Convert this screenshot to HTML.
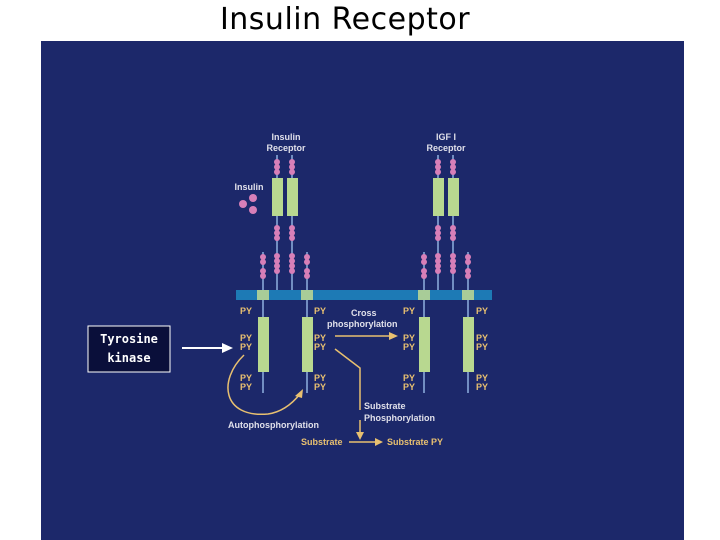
<!DOCTYPE html>
<html><head><style>
body{margin:0;width:720px;height:540px;background:#fff;overflow:hidden;position:relative;font-family:"Liberation Sans",sans-serif}
.t{position:absolute;top:2px;left:0;width:720px;text-align:center;font-size:30px;font-family:"DejaVu Sans",sans-serif;letter-spacing:0.5px;color:#000}
</style></head><body>
<div class="t" style="left:-15px">Insulin Receptor</div>
<svg width="720" height="540" style="position:absolute;left:0;top:0">
<rect x="41" y="41" width="643" height="499" fill="#1c286a"/>
<g font-family="Liberation Sans" font-weight="bold" font-size="9" fill="#e0e0ea" text-anchor="middle">
<text x="286" y="140">Insulin</text><text x="286" y="151">Receptor</text>
<text x="446" y="140">IGF I</text><text x="446" y="151">Receptor</text>
<text x="249" y="190">Insulin</text>
</g>
<g fill="#d77fb8"><circle cx="243" cy="204" r="4"/><circle cx="253" cy="198" r="4"/><circle cx="253" cy="210" r="4"/></g>
<g stroke="#8fb0e0" stroke-width="1.5">
<line x1="277" y1="155" x2="277" y2="290"/><line x1="292" y1="155" x2="292" y2="290"/>
<line x1="438" y1="155" x2="438" y2="290"/><line x1="453" y1="155" x2="453" y2="290"/>
<line x1="263" y1="252" x2="263" y2="393"/><line x1="307" y1="252" x2="307" y2="393"/>
<line x1="424" y1="252" x2="424" y2="393"/><line x1="468" y1="252" x2="468" y2="393"/>
</g>
<g fill="#b8d890"><rect x="272" y="178" width="11" height="38"/><rect x="287" y="178" width="11" height="38"/><rect x="433" y="178" width="11" height="38"/><rect x="448" y="178" width="11" height="38"/></g>
<g fill="#d77fb8">
<circle cx="277" cy="162" r="3"/><circle cx="277" cy="167" r="3"/><circle cx="277" cy="172" r="3"/>
<circle cx="292" cy="162" r="3"/><circle cx="292" cy="167" r="3"/><circle cx="292" cy="172" r="3"/>
<circle cx="438" cy="162" r="3"/><circle cx="438" cy="167" r="3"/><circle cx="438" cy="172" r="3"/>
<circle cx="453" cy="162" r="3"/><circle cx="453" cy="167" r="3"/><circle cx="453" cy="172" r="3"/>
<circle cx="277" cy="228" r="3"/><circle cx="277" cy="233" r="3"/><circle cx="277" cy="238" r="3"/><circle cx="277" cy="256" r="3"/><circle cx="277" cy="261" r="3"/><circle cx="277" cy="266" r="3"/><circle cx="277" cy="271" r="3"/>
<circle cx="292" cy="228" r="3"/><circle cx="292" cy="233" r="3"/><circle cx="292" cy="238" r="3"/><circle cx="292" cy="256" r="3"/><circle cx="292" cy="261" r="3"/><circle cx="292" cy="266" r="3"/><circle cx="292" cy="271" r="3"/>
<circle cx="438" cy="228" r="3"/><circle cx="438" cy="233" r="3"/><circle cx="438" cy="238" r="3"/><circle cx="438" cy="256" r="3"/><circle cx="438" cy="261" r="3"/><circle cx="438" cy="266" r="3"/><circle cx="438" cy="271" r="3"/>
<circle cx="453" cy="228" r="3"/><circle cx="453" cy="233" r="3"/><circle cx="453" cy="238" r="3"/><circle cx="453" cy="256" r="3"/><circle cx="453" cy="261" r="3"/><circle cx="453" cy="266" r="3"/><circle cx="453" cy="271" r="3"/>
<circle cx="263" cy="257" r="3"/><circle cx="263" cy="262" r="3"/><circle cx="263" cy="271" r="3"/><circle cx="263" cy="276" r="3"/>
<circle cx="307" cy="257" r="3"/><circle cx="307" cy="262" r="3"/><circle cx="307" cy="271" r="3"/><circle cx="307" cy="276" r="3"/>
<circle cx="424" cy="257" r="3"/><circle cx="424" cy="262" r="3"/><circle cx="424" cy="271" r="3"/><circle cx="424" cy="276" r="3"/>
<circle cx="468" cy="257" r="3"/><circle cx="468" cy="262" r="3"/><circle cx="468" cy="271" r="3"/><circle cx="468" cy="276" r="3"/>
</g>
<rect x="236" y="290" width="256" height="10" fill="#1d7ab5"/>
<g fill="#a8cc98"><rect x="257" y="290" width="12" height="10"/><rect x="301" y="290" width="12" height="10"/><rect x="418" y="290" width="12" height="10"/><rect x="462" y="290" width="12" height="10"/></g>
<g fill="#b8d890"><rect x="258" y="317" width="11" height="55"/><rect x="302" y="317" width="11" height="55"/><rect x="419" y="317" width="11" height="55"/><rect x="463" y="317" width="11" height="55"/></g>
<g font-family="Liberation Sans" font-weight="bold" font-size="9" fill="#e8c070">
<text x="240" y="314">PY</text><text x="240" y="341">PY</text><text x="240" y="350">PY</text><text x="240" y="381">PY</text><text x="240" y="390">PY</text>
<text x="314" y="314">PY</text><text x="314" y="341">PY</text><text x="314" y="350">PY</text><text x="314" y="381">PY</text><text x="314" y="390">PY</text>
<text x="403" y="314">PY</text><text x="403" y="341">PY</text><text x="403" y="350">PY</text><text x="403" y="381">PY</text><text x="403" y="390">PY</text>
<text x="476" y="314">PY</text><text x="476" y="341">PY</text><text x="476" y="350">PY</text><text x="476" y="381">PY</text><text x="476" y="390">PY</text>
</g>
<g font-family="Liberation Sans" font-weight="bold" font-size="9" fill="#e0e0ea">
<text x="351" y="316">Cross</text><text x="327" y="327">phosphorylation</text>
<text x="364" y="409">Substrate</text><text x="364" y="421">Phosphorylation</text>
<text x="228" y="428">Autophosphorylation</text>
</g>
<g font-family="Liberation Sans" font-weight="bold" font-size="9" fill="#e8c070">
<text x="301" y="445">Substrate</text><text x="387" y="445">Substrate PY</text>
</g>
<g stroke="#e8c070" stroke-width="1.5" fill="none">
<line x1="335" y1="336" x2="392" y2="336"/>
<polyline points="335,349 360,368 360,410"/>
<line x1="360" y1="420" x2="360" y2="434"/>
<line x1="349" y1="442" x2="376" y2="442"/>
<path d="M244,355 C218,380 222,418 268,414 C282,412 292,404 300,394"/>
</g>
<g fill="#e8c070">
<polygon points="398,336 389,332 389,340"/><polygon points="360,440 356,432 364,432"/><polygon points="383,442 375,438 375,446"/><polygon points="303,389 295,396 302,398"/>
</g>
<rect x="88" y="326" width="82" height="46" fill="#0a0f3a" stroke="#fff" stroke-width="1"/>
<text x="129" y="343" font-family="DejaVu Sans Mono" font-weight="bold" font-size="12" fill="#fff" text-anchor="middle">Tyrosine</text>
<text x="129" y="362" font-family="DejaVu Sans Mono" font-weight="bold" font-size="12" fill="#fff" text-anchor="middle">kinase</text>
<line x1="182" y1="348" x2="224" y2="348" stroke="#fff" stroke-width="2"/>
<polygon points="233,348 222,343 222,353" fill="#fff"/>
</svg>
</body></html>
